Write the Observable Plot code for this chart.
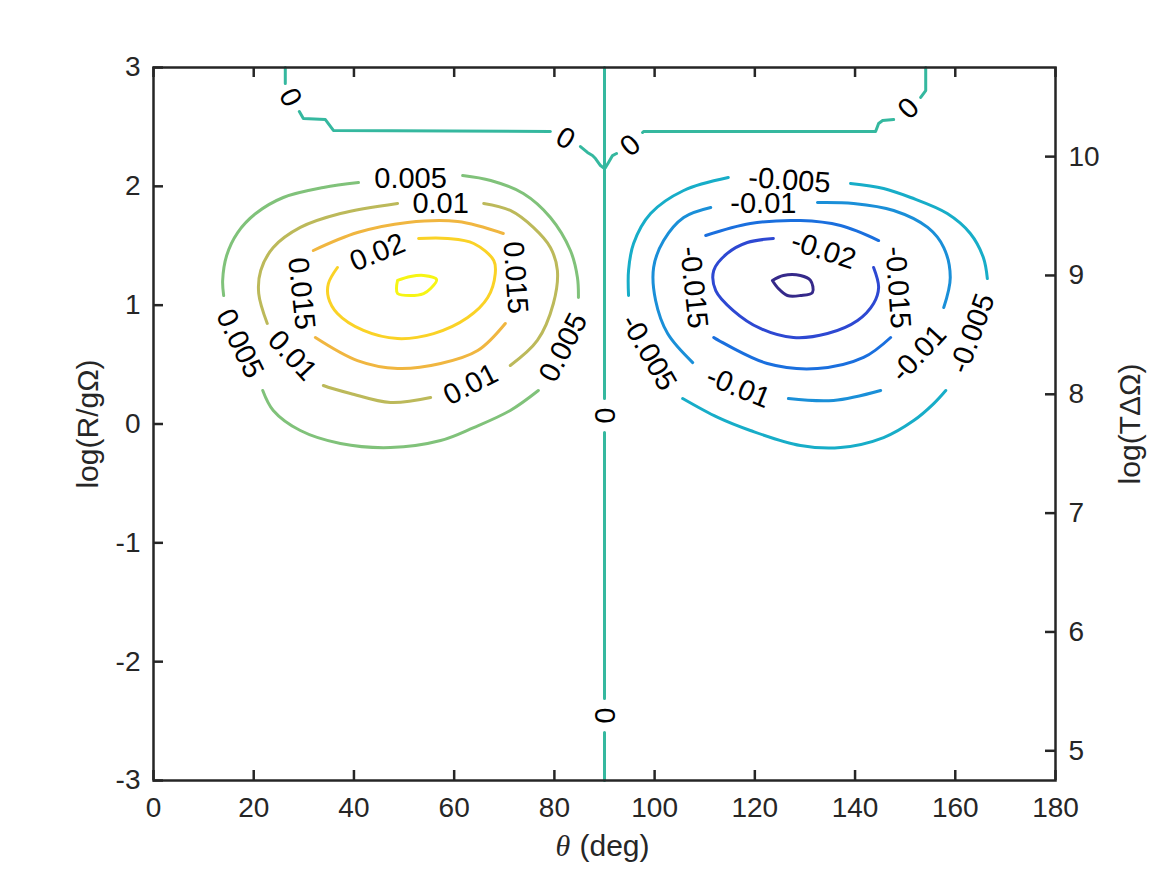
<!DOCTYPE html>
<html>
<head>
<meta charset="utf-8">
<script src="https://cdn.jsdelivr.net/npm/d3@7"></script>
<script src="https://cdn.jsdelivr.net/npm/@observablehq/plot@0.6"></script>
<style>
  html, body { margin: 0; padding: 0; background: #fff; }
  #chart svg { display: block; }
</style>
</head>
<body>
<div id="chart"></div>
<script>
// ---------- axes ----------
const xTicks = [0, 20, 40, 60, 80, 100, 120, 140, 160, 180];
const yTicks = [-3, -2, -1, 0, 1, 2, 3];
const rightTicks = [5, 6, 7, 8, 9, 10];
const rightOffset = 7.75; // log(TΔΩ) = log(R/gΩ) + 7.75

// ---------- contour levels & colours (parula) ----------
const levels = [-0.025, -0.02, -0.015, -0.01, -0.005, 0, 0.005, 0.01, 0.015, 0.02, 0.025];
const levelColors = ["#35298a", "#2d48d2", "#1a6fde", "#1a8fd8", "#17adc8", "#35b89f",
                     "#80c27a", "#bcb95a", "#f0b640", "#fad226", "#f6f514"];

// ---------- contour lines [theta (deg), log(R/gΩ)], null = label gap ----------
const zeroLeft = [[26.3,3.0],[26.3,2.865],null,[29.1,2.630],[29.9,2.571],[34.3,2.562],[35.9,2.470],[79.2,2.461],null,
  [85.2,2.335],[86.6,2.285],[87.6,2.259],[88.2,2.234],[89.2,2.175],[90.0,2.150]];
const zeroMid = [[90,3.0],[90,0.214],null,[90,-0.072],[90,-2.310],null,[90,-2.596],[90,-3.0]];
const zeroRight = [[90.0,2.150],[90.2,2.158],[90.8,2.201],[91.6,2.259],[92.4,2.276],null,
  [97.6,2.453],[97.8,2.461],[144.1,2.461],[144.7,2.529],[145.5,2.554],[147.7,2.562],null,
  [153.1,2.748],[154.1,2.806],[154.1,3.0]];

const pos005 = [[61.7,2.091],[67.3,2.049],[73.8,1.940],[79.2,1.738],[83.2,1.460],[84.6,1.233],[84.8,1.064],null,
  [76.8,0.282],[71.2,0.114],[63.9,-0.030],[57.3,-0.139],[47.3,-0.198],[37.3,-0.164],[29.3,-0.055],[23.9,0.114],[21.8,0.282],null,
  [14.0,1.081],[13.8,1.208],[14.6,1.418],[16.8,1.611],[20.4,1.771],[25.9,1.906],[33.9,1.990],[40.9,2.032]];
const pos010 = [[65.9,1.856],[71.2,1.797],[75.8,1.654],[79.2,1.485],[80.6,1.292],[79.8,1.014],[76.6,0.703],[71.2,0.492],null,
  [55.3,0.223],[47.3,0.181],[39.3,0.257],[33.9,0.324],null,
  [22.7,0.846],[21.0,1.098],[21.4,1.292],[23.9,1.485],[29.3,1.654],[37.3,1.771],[48.7,1.856]];
const pos015 = [[31.9,1.460],[40.7,1.611],[50.7,1.696],[60.7,1.704],[69.8,1.603],null,
  [70.2,0.846],[64.7,0.618],[57.3,0.509],[48.7,0.467],[40.7,0.534],[32.3,0.728]];
const pos020 = [[52.9,1.561],[58.7,1.561],[63.9,1.519],[67.9,1.376],[68.2,1.266],[66.7,1.064],[62.7,0.896],
  [55.9,0.761],[48.7,0.719],[41.9,0.787],[36.7,0.930],[34.9,1.064],[34.9,1.182],[36.7,1.317]];
const pos025 = [[48.7,1.208],[51.3,1.241],[53.9,1.250],[56.5,1.216],[55.3,1.140],[53.9,1.098],[51.3,1.081],
  [48.7,1.098],[48.5,1.149],[48.7,1.208]];

const neg005 = [[114.7,2.074],[105.8,1.965],[99.2,1.771],[95.8,1.519],[94.8,1.292],[94.8,1.081],null,
  [105.6,0.214],[112.6,0.055],[119.1,-0.055],[129.1,-0.181],[137.1,-0.198],[145.7,-0.114],[151.7,0.029],[155.7,0.172],[158.1,0.282],null,
  [166.4,1.224],[165.6,1.401],[163.0,1.603],[158.4,1.771],[151.1,1.906],[145.7,1.982],[139.1,2.024]];
const neg010 = [[111.2,1.822],[105.8,1.738],[101.8,1.544],[99.8,1.317],[100.2,1.039],[102.6,0.761],[107.6,0.517],null,
  [126.7,0.214],[135.7,0.198],[145.1,0.282],null,
  [157.7,0.980],[159.0,1.233],[157.7,1.485],[154.5,1.654],[147.7,1.797],[139.7,1.856],[132.5,1.864]];
const neg015 = [[110.2,1.586],[119.1,1.687],[129.1,1.712],[137.1,1.670],[144.7,1.544],null,
  [147.1,0.728],[141.7,0.560],[132.5,0.467],[122.5,0.509],[111.8,0.728]];
const neg020 = [[123.7,1.561],[118.5,1.527],[114.5,1.435],[111.8,1.292],[112.2,1.123],[115.7,0.955],[121.1,0.804],
  [127.7,0.728],[134.5,0.761],[140.5,0.871],[143.7,1.014],[144.7,1.149],[143.7,1.317]];
const neg025 = [[123.5,1.208],[125.7,1.250],[129.1,1.250],[131.1,1.208],[131.5,1.107],[129.1,1.081],[126.5,1.081],
  [124.7,1.140],[123.5,1.208]];

// ---------- contour labels [text, theta, logR, angle] ----------
const contourLabels = [
  ["0", 27.3, 2.748, 62], ["0", 82.2, 2.403, 30], ["0", 95.2, 2.344, -40], ["0", 150.7, 2.655, -45],
  ["0", 90, 0.071, 90], ["0", 90, -2.453, 90],
  ["0.005", 51.3, 2.066, 0], ["0.01", 57.3, 1.856, 0], ["0.02", 44.7, 1.443, -22],
  ["0.015", 29.5, 1.098, 84], ["0.015", 72.2, 1.233, 86], ["0.005", 17.2, 0.677, 64],
  ["0.01", 27.7, 0.576, 47], ["0.01", 63.3, 0.332, -27], ["0.005", 81.8, 0.644, -63],
  ["-0.005", 126.9, 2.049, 4], ["-0.01", 121.7, 1.856, 0], ["-0.02", 133.7, 1.460, 18],
  ["-0.015", 107.8, 1.149, 84], ["-0.015", 148.5, 1.149, 86], ["-0.005", 98.8, 0.602, 60],
  ["-0.01", 116.7, 0.307, 22], ["-0.01", 152.7, 0.593, -47], ["-0.005", 163.4, 0.761, -70]
];

// ---------- build tables ----------
const zeroContours = [zeroLeft, zeroMid, zeroRight];
const loopContours = [
  {level: 0.005, pts: pos005}, {level: 0.01, pts: pos010}, {level: 0.015, pts: pos015},
  {level: 0.02, pts: pos020}, {level: 0.025, pts: pos025},
  {level: -0.005, pts: neg005}, {level: -0.01, pts: neg010}, {level: -0.015, pts: neg015},
  {level: -0.02, pts: neg020}, {level: -0.025, pts: neg025}
];
function toRows(list) {
  const out = [];
  list.forEach((c, i) => {
    c.pts.forEach(p => out.push(p
      ? {id: i, level: c.level, theta: p[0], y: p[1]}
      : {id: i, level: c.level, theta: NaN, y: NaN}));
  });
  return out;
}
const zeroRows = toRows(zeroContours.map(pts => ({level: 0, pts})));
const loopRows = toRows(loopContours);

const INK = "#262626";
const FS = 28;
const CFS = 29;
const LFS = 30;
const FONT = "'Liberation Sans', Arial, Helvetica, sans-serif";
const W = 1167, H = 875;
const mL = 153, mR = 112, mT = 67, mB = 95;
const frameW = W - mL - mR, frameH = H - mT - mB;
const tickLen = 10;

const chart = Plot.plot({
  width: W,
  height: H,
  marginLeft: mL, marginRight: mR, marginTop: mT, marginBottom: mB,
  x: {domain: [0, 180]},
  y: {domain: [-3, 3]},
  color: {type: "ordinal", domain: levels, range: levelColors},
  style: {fontFamily: FONT, fontSize: FS + "px", color: INK, background: "white"},
  marks: [
    Plot.line(zeroRows, {x: "theta", y: "y", z: "id", stroke: "level", strokeWidth: 3, strokeLinejoin: "round"}),
    Plot.line(loopRows, {x: "theta", y: "y", z: "id", stroke: "level", strokeWidth: 3,
      strokeLinejoin: "round", curve: "catmull-rom"}),
    Plot.text(contourLabels, {x: d => d[1], y: d => d[2], text: d => d[0], rotate: d => d[3],
      fontSize: CFS, fill: "black", textAnchor: "middle", lineAnchor: "middle"}),
    // inward ticks
    Plot.tickX(xTicks, {x: d => d, insetTop: frameH - tickLen, stroke: INK, strokeWidth: 2.5}),
    Plot.tickX(xTicks, {x: d => d, insetBottom: frameH - tickLen, stroke: INK, strokeWidth: 2.5}),
    Plot.tickY(yTicks, {y: d => d, insetRight: frameW - tickLen, stroke: INK, strokeWidth: 2.5}),
    Plot.tickY(rightTicks.map(v => v - rightOffset), {y: d => d, insetLeft: frameW - tickLen, stroke: INK, strokeWidth: 2.5}),
    Plot.frame({stroke: INK, strokeWidth: 2.5}),
    // tick labels
    Plot.axisX(xTicks, {anchor: "bottom", tickSize: 0, tickPadding: 17, label: null,
      tickFormat: d => String(d), fontSize: FS, fill: INK}),
    Plot.axisY(yTicks, {anchor: "left", tickSize: 0, tickPadding: 13, label: null,
      tickFormat: d => String(d), fontSize: FS, fill: INK}),
    Plot.axisY(rightTicks.map(v => v - rightOffset), {anchor: "right", tickSize: 0, tickPadding: 13, label: null,
      tickFormat: d => String(Math.round(d + rightOffset)), fontSize: FS, fill: INK}),
    // axis titles
    Plot.text(["log(R/gΩ)"], {frameAnchor: "left", text: d => d, rotate: -90, dx: -65,
      fontSize: LFS, fill: INK, textAnchor: "middle", lineAnchor: "middle"}),
    Plot.text(["log(TΔΩ)"], {frameAnchor: "right", text: d => d, rotate: -90, dx: 75,
      fontSize: LFS, fill: INK, textAnchor: "middle", lineAnchor: "middle"}),
    Plot.text(["θ"], {frameAnchor: "bottom", text: d => d, dx: -49, dy: 66,
      fontSize: LFS, fill: INK, textAnchor: "start", lineAnchor: "middle",
      fontFamily: "'Liberation Serif', 'DejaVu Serif', serif", fontStyle: "italic"}),
    Plot.text(["(deg)"], {frameAnchor: "bottom", text: d => d, dx: -25, dy: 66,
      fontSize: LFS, fill: INK, textAnchor: "start", lineAnchor: "middle"})
  ]
});
document.getElementById("chart").appendChild(chart);
</script>
</body>
</html>
